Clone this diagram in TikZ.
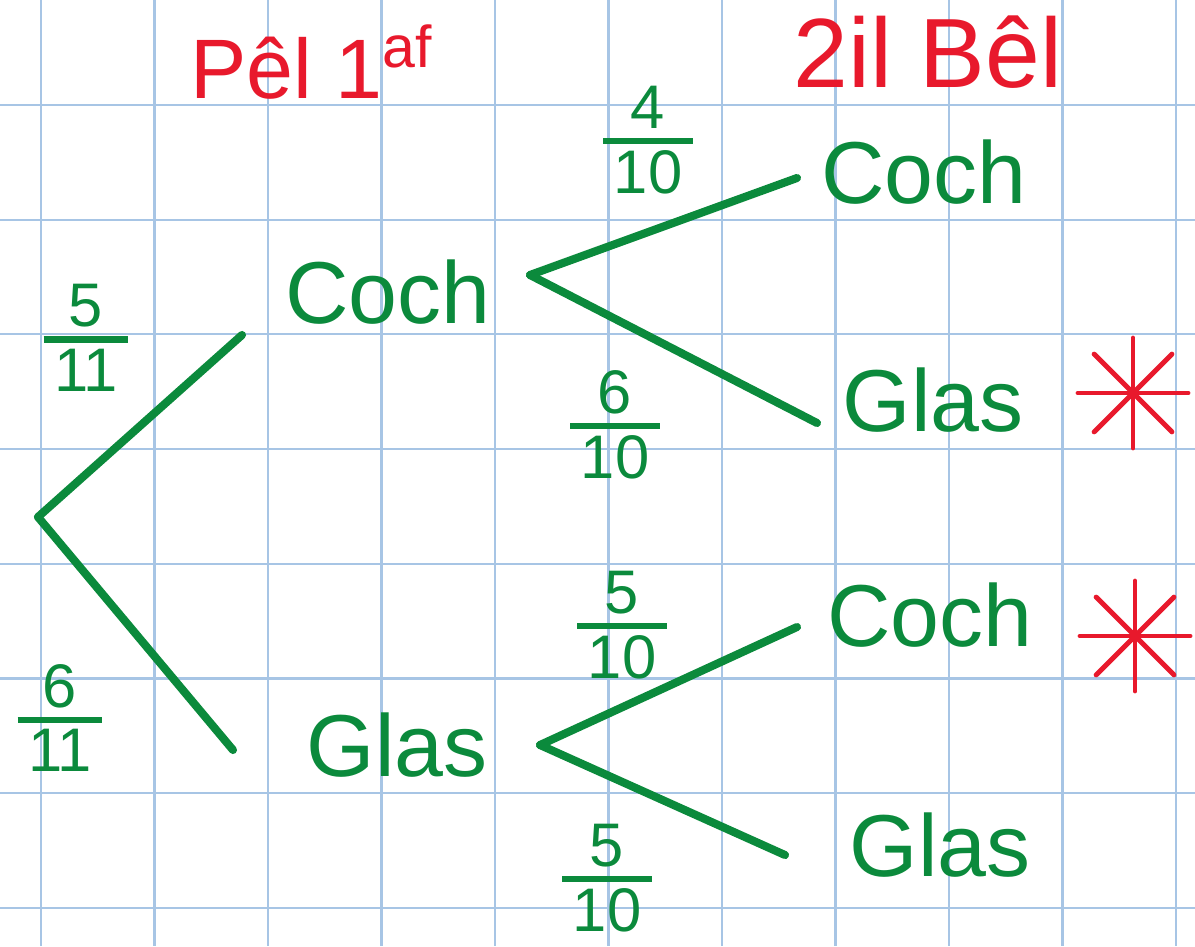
\documentclass[tikz,border=0pt]{standalone}
\usepackage{fontspec}
\usepackage{amsmath}
\setmainfont{Liberation Sans}
\usetikzlibrary{positioning, calc}
\definecolor{pengreen}{HTML}{0B8A3C}
\definecolor{penred}{HTML}{E8192C}
\definecolor{gridblue}{HTML}{A7C5E5}
\newcommand{\handfrac}[2]{$\genfrac{}{}{1.8pt}{1}{\text{#1}}{\text{\kern3pt#2\kern3pt}}$}

\begin{document}
\begin{tikzpicture}[x=0.01cm, y=-0.01cm,
      outcome/.style={text=pengreen, font=\fontsize{25}{30}\selectfont, inner sep=0pt},
      prob/.style={text=pengreen, font=\fontsize{25}{30}\selectfont, inner sep=0pt},
      heading/.style={text=penred, font=\fontsize{26}{30}\selectfont, inner sep=0pt},
      branch/.style={pengreen, line width=2.3pt, line cap=round, line join=round},
      starline/.style={penred, line width=1.4pt, line cap=round},
      gridline/.style={gridblue, line width=0.6pt}
    ]
      % squared paper
      \useasboundingbox (0,0) rectangle (1195,946);
      \foreach \i in {0,...,10} \draw[gridline] (41+113.5*\i,0) -- (41+113.5*\i,946);
      \foreach \j in {0,...,7} \draw[gridline] (0,105+114.7*\j) -- (1195,105+114.7*\j);

      \node[heading, font=\fontsize{24}{28}\selectfont] (H1) at (312,62) {Pêl 1\textsuperscript{af}};
      \node[heading, font=\fontsize{28}{32}\selectfont] (H2) at (928,52) {2il Bêl};

      \node[outcome] (C1) at (388,292) {Coch};
      \node[outcome] (G1) at (397,745) {Glas};
      \node[outcome] (C2) at (924,172) {Coch};
      \node[outcome] (G2) at (933,400) {Glas};
      \node[outcome] (C3) at (930,615) {Coch};
      \node[outcome] (G3) at (940,845) {Glas};

      \node[prob] (P1) at (86,338) {\handfrac{5}{11}};
      \node[prob] (P2) at (60,718) {\handfrac{6}{11}};
      \node[prob] (P3) at (648,140) {\handfrac{4}{10}};
      \node[prob] (P4) at (615,425) {\handfrac{6}{10}};
      \node[prob] (P5) at (622,625) {\handfrac{5}{10}};
      \node[prob] (P6) at (607,878) {\handfrac{5}{10}};

      \coordinate (root) at (38,517);
      \coordinate (C1in) at (242,335);
      \coordinate (G1in) at (233,750);
      \coordinate (C1out) at (530,275);
      \coordinate (G1out) at (540,745);
      \coordinate (C2in) at (797,178);
      \coordinate (G2in) at (817,423);
      \coordinate (C3in) at (797,627);
      \coordinate (G3in) at (785,855);

      \draw[branch] (root) -- (C1in);
      \draw[branch] (root) -- (G1in);
      \draw[branch] (C1out) -- (C2in);
      \draw[branch] (C1out) -- (G2in);
      \draw[branch] (G1out) -- (C3in);
      \draw[branch] (G1out) -- (G3in);

      % red stars
      \coordinate (S1) at (1133,393);
      \coordinate (S2) at (1135,636);
      \foreach \s in {S1,S2}
        \foreach \a in {0,45,90,135}
          \draw[starline] ($(\s)+(\a:55)$) -- ($(\s)-(\a:55)$);
    \end{tikzpicture}
\end{document}
